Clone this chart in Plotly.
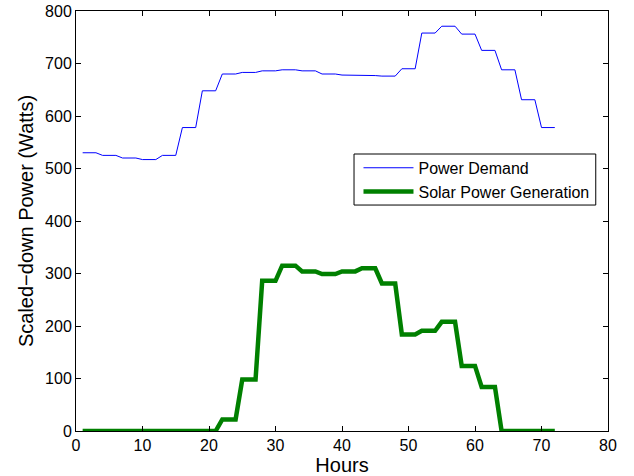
import plotly.graph_objects as go

hours = list(range(1, 73))

# values per 3-hour block (24 blocks covering hours 1..72)
demand_blocks = [530, 525, 520, 517, 525, 578, 648, 680, 683, 686, 688, 686,
                 680, 678, 677, 676, 690, 758, 771, 756, 725, 688, 631, 578]
solar_blocks = [0, 0, 0, 0, 0, 0, 0, 22, 98, 286, 315, 304,
                299, 304, 310, 281, 184, 191, 208, 124, 84, 0, 0, 0]

demand = [v for v in demand_blocks for _ in range(3)]
solar = [v for v in solar_blocks for _ in range(3)]

x_ticks = [0, 10, 20, 30, 40, 50, 60, 70, 80]
y_ticks = [0, 100, 200, 300, 400, 500, 600, 700, 800]

fig = go.Figure()
fig.add_trace(go.Scatter(x=hours, y=demand, mode="lines", name="Power Demand",
                         line=dict(color="#0000ff", width=1)))
fig.add_trace(go.Scatter(x=hours, y=solar, mode="lines", name="Solar Power Generation",
                         line=dict(color="#008000", width=4.5)))

axis_common = dict(showgrid=False, zeroline=False, showline=True, linecolor="black",
                   linewidth=1, mirror="ticks", ticks="inside", ticklen=5,
                   tickcolor="black", tickfont=dict(size=16, color="black"),
                   automargin=False)

fig.update_layout(
    width=634, height=476,
    margin=dict(l=76, r=26, t=11, b=45),
    paper_bgcolor="white", plot_bgcolor="white",
    font=dict(family="Liberation Sans, Arial, sans-serif", color="black"),
    xaxis=dict(range=[0, 80], tickvals=x_ticks, ticktext=[str(v) for v in x_ticks],
               title=dict(text="Hours", font=dict(size=20), standoff=2), **axis_common),
    yaxis=dict(range=[0, 800], tickvals=y_ticks, ticktext=[str(v) for v in y_ticks],
               title=dict(text="Scaled−down Power (Watts)", font=dict(size=20), standoff=6),
               **axis_common),
    legend=dict(x=0.531, y=0.667, xanchor="left", yanchor="top",
                borderwidth=0, bgcolor="rgba(0,0,0,0)",
                font=dict(size=16), itemwidth=50, tracegroupgap=0),
    shapes=[dict(type="rect", xref="paper", yref="paper",
                 x0=0.5226, x1=0.977, y0=0.538, y1=0.6595,
                 line=dict(color="black", width=1), fillcolor="white", layer="above")],
    showlegend=True,
)

fig.write_html("out.html", config={"displayModeBar": False},
               post_script="document.body.style.margin='0';document.body.style.overflow='hidden';")
